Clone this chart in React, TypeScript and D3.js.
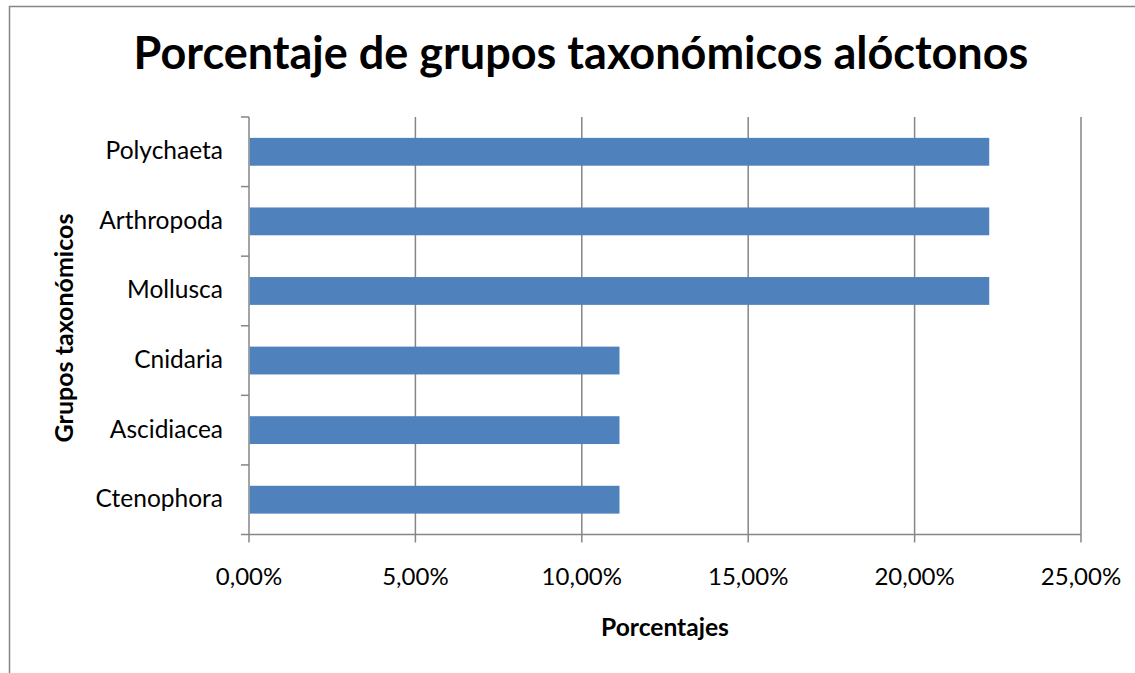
import React from "react";
import * as d3 from "d3";

const categories = ["Polychaeta", "Arthropoda", "Mollusca", "Cnidaria", "Ascidiacea", "Ctenophora"];
const values = [0.2222, 0.2222, 0.2222, 0.1111, 0.1111, 0.1111];
const xTicks = [0, 0.05, 0.1, 0.15, 0.2, 0.25];
const title = "Porcentaje de grupos taxonómicos alóctonos";
const xTitle = "Porcentajes";
const yTitle = "Grupos taxonómicos";

const W = 1135;
const H = 673;
const FONT = "Lato, 'Open Sans', sans-serif";

export default function App() {
  const left = 249, right = 1081, top = 117, bottom = 534.5;
  const x = d3.scaleLinear().domain([0, 0.25]).range([left, right]);
  const y = d3.scaleBand<string>().domain(categories).range([top, bottom]).paddingInner(0.6).paddingOuter(0.3);
  const band = (bottom - top) / categories.length;
  const fmt = (v: number) => (v * 100).toFixed(2).replace(".", ",") + "%";
  const grid = "#868686";
  return (
    <svg width={W} height={H} style={{ position: "absolute", left: 0, top: 0, background: "#fff" }}>
      <rect x={0} y={0} width={W} height={H} fill="#fff" />
      <path d={`M9.5,${H} V6.5 H${W}`} fill="none" stroke="#868686" strokeWidth={1.5} />
      <text x={581} y={69} textAnchor="middle" fontFamily={FONT} fontWeight={700} fontSize={45} fill="#000">{title}</text>
      {xTicks.map((t) => (
        <g key={t}>
          <line x1={x(t)} x2={x(t)} y1={top} y2={bottom + 8} stroke={grid} strokeWidth={1.5} />
          <text x={x(t)} y={585} textAnchor="middle" fontFamily={FONT} fontSize={24} fill="#000">{fmt(t)}</text>
        </g>
      ))}
      <line x1={left} x2={right} y1={bottom} y2={bottom} stroke={grid} strokeWidth={1.5} />
      {d3.range(categories.length + 1).map((i) => (
        <line key={i} x1={left - 8} x2={left} y1={top + i * band} y2={top + i * band} stroke={grid} strokeWidth={1.5} />
      ))}
      {categories.map((c, i) => (
        <g key={c}>
          <rect x={x(0) + 0.75} y={y(c)} width={x(values[i]) - x(0)} height={y.bandwidth()} fill="#4f81bd" />
          <text x={223} y={(y(c) as number) + y.bandwidth() / 2 + 7.5} textAnchor="end" fontFamily={FONT} fontSize={24.5} fill="#000">{c}</text>
        </g>
      ))}
      <text x={665} y={636} textAnchor="middle" fontFamily={FONT} fontWeight={700} fontSize={24.6} fill="#000">{xTitle}</text>
      <text transform={`translate(73,328) rotate(-90)`} textAnchor="middle" fontFamily={FONT} fontWeight={700} fontSize={25} fill="#000">{yTitle}</text>
    </svg>
  );
}
